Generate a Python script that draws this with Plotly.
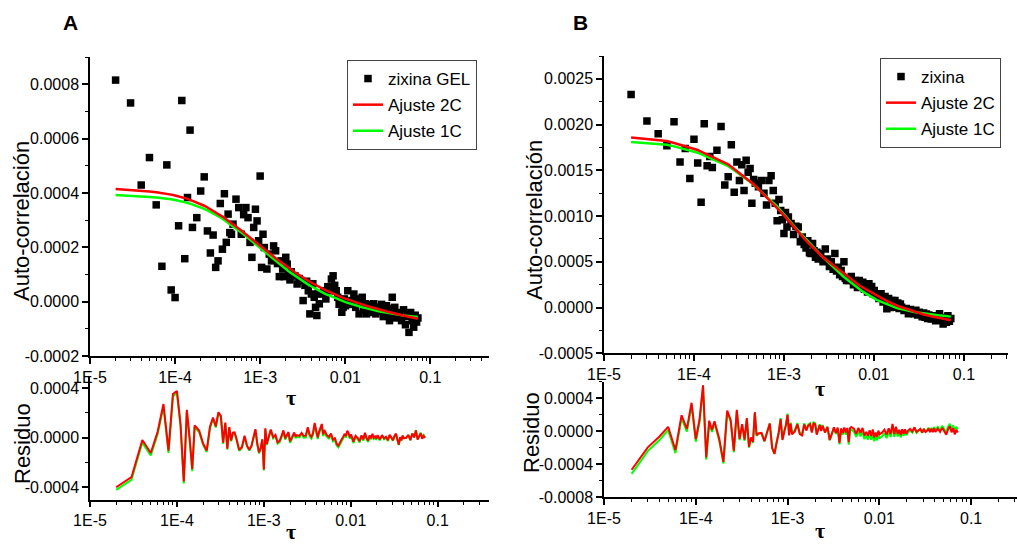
import numpy as np
import plotly.graph_objects as go

# Lag times, in units of 10 microseconds (multi-tau correlator channels)
TAU_10US = [2, 3, 4, 5, 6, 7, 8, 9, 10, 11, 12, 13, 14, 15, 16,
            18, 20, 22, 24, 26, 28, 30, 32, 34, 36, 38, 40, 42, 44, 46, 48,
            52, 56, 60, 64, 68, 72, 76, 80, 84, 88, 92, 96, 100, 104, 108, 112,
            120, 128, 136, 144, 152, 160, 168, 176, 184, 192, 200, 208, 216, 224, 232, 240,
            256, 272, 288, 304, 320, 336, 352, 368, 384, 400, 416, 432, 448, 464, 480, 496,
            528, 560, 592, 624, 656, 688, 720, 752, 784, 816, 848, 880, 912, 944, 976, 1008,
            1072, 1136, 1200, 1264, 1328, 1392, 1456, 1520, 1584, 1648, 1712, 1776, 1840, 1904, 1968, 2032,
            2160, 2288, 2416, 2544, 2672, 2800, 2928, 3056, 3184, 3312, 3440, 3568, 3696, 3824, 3952, 4080,
            4336, 4592, 4848, 5104, 5360, 5616, 5872, 6128, 6384, 6640, 6896, 7152]

# Panel A: zixina GEL autocorrelation and fits (units of 1e-4)
G_A = [8.15, 7.31, 4.29, 5.30, 3.56, 1.30, 5.03, 0.43, 0.15, 2.79, 7.40, 1.58, 3.83, 6.31, 2.73,
       3.09, 4.07, 4.59, 2.60, 1.79, 2.45, 1.26, 1.50, 3.61, 1.93, 3.97, 2.18, 3.22, 2.54, 2.48, 2.85,
       3.77, 3.46, 2.48, 3.20, 3.46, 3.09, 2.18, 1.63, 2.73, 3.40, 2.97, 2.24, 4.62, 1.26, 2.48, 1.99,
       1.20, 1.75, 1.50, 2.05, 1.87, 1.40, 0.92, 1.50, 1.20, 0.92, 1.63, 1.38, 1.02, 0.80, 1.10, 0.95,
       0.95, 0.65, 0.85, 0.77, 0.04, 0.60, 0.75, 0.40, -0.45, 0.28, 0.66, 0.16, -0.21, -0.51, 0.30, -0.08,
       0.28, 0.40, 0.10, 0.55, 0.40, 0.83, 0.95, 0.60, 0.40, 0.16, -0.10, 0.05, -0.39, -0.21, 0.10, -0.15,
       0.40, -0.10, 0.04, 0.28, -0.21, 0.10, -0.45, -0.05, 0.16, -0.30, -0.08, -0.45, -0.15, -0.27, -0.10, -0.40,
       -0.08, -0.45, -0.20, -0.35, -0.10, -0.55, -0.30, -0.15, -0.50, -0.70, -0.25, 0.16, -0.45, -0.21, -0.60, -0.40,
       -0.45, -0.70, -0.30, -0.85, -0.55, -1.13, -0.40, -0.70, -0.94, -0.50, -0.75, -0.60]
FIT2_A = [4.140, 4.109, 4.087, 4.051, 4.021, 3.996, 3.973, 3.937, 3.905, 3.876, 3.850, 3.819, 3.781, 3.746, 3.713,
          3.653, 3.598, 3.528, 3.462, 3.402, 3.346, 3.295, 3.244, 3.186, 3.130, 3.077, 3.028, 2.982, 2.937, 2.893, 2.852,
          2.770, 2.689, 2.613, 2.542, 2.474, 2.414, 2.353, 2.297, 2.244, 2.193, 2.142, 2.096, 2.050, 2.007, 1.966, 1.925,
          1.849, 1.778, 1.713, 1.656, 1.598, 1.545, 1.495, 1.445, 1.399, 1.356, 1.313, 1.276, 1.242, 1.208, 1.175, 1.143,
          1.083, 1.025, 0.973, 0.922, 0.876, 0.838, 0.799, 0.765, 0.732, 0.699, 0.668, 0.639, 0.609, 0.580, 0.555, 0.529,
          0.486, 0.449, 0.414, 0.380, 0.347, 0.316, 0.288, 0.260, 0.234, 0.211, 0.192, 0.173, 0.155, 0.137, 0.120, 0.104,
          0.072, 0.043, 0.015, -0.012, -0.032, -0.053, -0.071, -0.090, -0.107, -0.124, -0.140, -0.155, -0.170, -0.185, -0.199, -0.212,
          -0.234, -0.255, -0.275, -0.295, -0.313, -0.330, -0.347, -0.362, -0.377, -0.390, -0.403, -0.414, -0.426, -0.437, -0.448, -0.458,
          -0.478, -0.497, -0.515, -0.530, -0.545, -0.558, -0.571, -0.584, -0.596, -0.607, -0.619, -0.629]
FIT1_A = [3.920, 3.897, 3.880, 3.852, 3.829, 3.810, 3.792, 3.763, 3.737, 3.713, 3.691, 3.665, 3.633, 3.603, 3.575,
          3.524, 3.477, 3.414, 3.355, 3.301, 3.251, 3.205, 3.158, 3.103, 3.050, 2.999, 2.952, 2.908, 2.865, 2.823, 2.784,
          2.703, 2.621, 2.545, 2.474, 2.405, 2.344, 2.282, 2.226, 2.170, 2.116, 2.063, 2.015, 1.967, 1.922, 1.878, 1.835,
          1.755, 1.681, 1.613, 1.552, 1.492, 1.436, 1.383, 1.330, 1.282, 1.237, 1.192, 1.154, 1.118, 1.083, 1.049, 1.016,
          0.954, 0.894, 0.840, 0.787, 0.740, 0.701, 0.662, 0.627, 0.594, 0.560, 0.529, 0.499, 0.470, 0.440, 0.414, 0.388,
          0.346, 0.311, 0.276, 0.244, 0.212, 0.182, 0.155, 0.128, 0.103, 0.081, 0.064, 0.047, 0.029, 0.013, -0.002, -0.017,
          -0.046, -0.073, -0.098, -0.123, -0.141, -0.158, -0.175, -0.191, -0.206, -0.220, -0.235, -0.248, -0.261, -0.274, -0.286, -0.296,
          -0.313, -0.329, -0.345, -0.360, -0.374, -0.387, -0.400, -0.411, -0.422, -0.430, -0.439, -0.446, -0.453, -0.460, -0.467, -0.474,
          -0.486, -0.498, -0.509, -0.519, -0.526, -0.533, -0.540, -0.546, -0.552, -0.558, -0.564, -0.569]

# Panel B: zixina autocorrelation and fits (units of 1e-4)
G_B = [23.3, 20.4, 19.0, 17.7, 20.3, 15.9, 17.4, 14.1, 18.4, 15.8, 11.5, 20.1, 15.5, 16.5, 15.3,
       17.2, 19.8, 13.4, 14.3, 17.8, 12.6, 15.9, 13.9, 15.6, 12.8, 16.1, 14.8, 15.2, 11.4, 14.0, 13.6,
       13.2, 13.9, 12.5, 11.2, 13.9, 14.4, 12.8, 11.4, 9.5, 11.8, 10.6, 9.6, 8.1, 10.4, 8.8, 9.9,
       9.2, 8.0, 8.9, 8.8, 7.2, 7.7, 6.9, 6.5, 7.3, 6.0, 5.9, 7.0, 6.2, 5.5, 6.06, 5.3,
       5.9, 5.0, 6.4, 5.3, 4.5, 5.0, 4.2, 5.9, 4.0, 4.4, 3.6, 4.06, 3.4, 5.0, 3.2, 2.96,
       2.96, 3.4, 2.5, 2.96, 2.2, 2.96, 2.4, 2.77, 2.0, 2.6, 1.7, 2.6, 1.9, 2.3, 1.5, 1.86,
       1.5, 1.0, 1.5, 0.6, 1.2, -0.14, 1.0, 0.0, 0.77, 0.2, 0.77, 0.03, 0.5, -0.1, 0.4, 0.03,
       -0.33, -0.1, -0.69, -0.2, -0.51, -0.69, -0.3, -0.8, -0.5, -0.69, -1.0, -0.6, -1.06, -0.7, -1.2, -0.8,
       -1.24, -0.9, -1.43, -1.0, -0.69, -1.4, -1.79, -1.1, -1.61, -0.9, -1.5, -1.2]
FIT2_B = [18.60, 18.42, 18.30, 18.20, 17.99, 17.81, 17.66, 17.52, 17.40, 17.22, 17.05, 16.89, 16.75, 16.62, 16.49,
          16.27, 16.06, 15.88, 15.65, 15.40, 15.16, 14.94, 14.74, 14.55, 14.37, 14.19, 14.03, 13.87, 13.68, 13.48, 13.31,
          12.97, 12.66, 12.37, 12.10, 11.84, 11.61, 11.38, 11.16, 10.95, 10.72, 10.49, 10.28, 10.07, 9.87, 9.69, 9.50,
          9.15, 8.82, 8.51, 8.25, 8.00, 7.76, 7.54, 7.31, 7.11, 6.92, 6.73, 6.55, 6.38, 6.21, 6.06, 5.94,
          5.72, 5.50, 5.31, 5.12, 4.94, 4.77, 4.60, 4.45, 4.31, 4.16, 4.03, 3.90, 3.77, 3.65, 3.55, 3.45,
          3.24, 3.06, 2.89, 2.72, 2.57, 2.41, 2.30, 2.19, 2.09, 1.98, 1.89, 1.80, 1.71, 1.62, 1.54, 1.46,
          1.30, 1.17, 1.05, 0.93, 0.82, 0.71, 0.62, 0.52, 0.43, 0.34, 0.28, 0.23, 0.17, 0.12, 0.07, 0.02,
          -0.07, -0.16, -0.24, -0.32, -0.38, -0.44, -0.50, -0.55, -0.61, -0.66, -0.71, -0.75, -0.80, -0.84, -0.87, -0.90,
          -0.95, -1.00, -1.05, -1.10, -1.14, -1.18, -1.22, -1.25, -1.29, -1.32, -1.36, -1.39]
FIT1_B = [18.10, 17.97, 17.87, 17.80, 17.62, 17.46, 17.33, 17.21, 17.10, 16.93, 16.77, 16.62, 16.49, 16.37, 16.25,
          16.04, 15.85, 15.68, 15.46, 15.22, 15.00, 14.79, 14.60, 14.42, 14.24, 14.08, 13.92, 13.77, 13.59, 13.41, 13.25,
          12.94, 12.65, 12.38, 12.13, 11.88, 11.67, 11.45, 11.25, 11.05, 10.83, 10.60, 10.40, 10.19, 10.00, 9.82, 9.63,
          9.29, 8.97, 8.67, 8.40, 8.14, 7.90, 7.67, 7.44, 7.24, 7.04, 6.85, 6.66, 6.48, 6.31, 6.15, 6.01,
          5.75, 5.50, 5.28, 5.05, 4.85, 4.65, 4.46, 4.28, 4.11, 3.94, 3.78, 3.63, 3.48, 3.34, 3.23, 3.12,
          2.89, 2.69, 2.50, 2.31, 2.14, 1.97, 1.85, 1.74, 1.64, 1.53, 1.44, 1.35, 1.26, 1.17, 1.09, 1.01,
          0.85, 0.74, 0.64, 0.54, 0.45, 0.36, 0.28, 0.19, 0.11, 0.05, 0.00, -0.03, -0.07, -0.11, -0.14, -0.18,
          -0.24, -0.30, -0.36, -0.41, -0.44, -0.48, -0.51, -0.54, -0.56, -0.59, -0.62, -0.64, -0.67, -0.70, -0.71, -0.73,
          -0.76, -0.78, -0.81, -0.83, -0.86, -0.88, -0.90, -0.92, -0.94, -0.96, -0.98, -0.99]

X_TICKS = [1e-5, 1e-4, 1e-3, 1e-2, 1e-1]
X_TICK_TEXT = ["1E-5", "1E-4", "1E-3", "0.01", "0.1"]

YA_TICKS = [-0.0002, 0.0, 0.0002, 0.0004, 0.0006, 0.0008]
YA_TEXT = ["-0.0002", "0.0000", "0.0002", "0.0004", "0.0006", "0.0008"]
YB_TICKS = [-0.0005, 0.0, 0.0005, 0.0010, 0.0015, 0.0020, 0.0025]
YB_TEXT = ["-0.0005", "0.0000", "0.0005", "0.0010", "0.0015", "0.0020", "0.0025"]
RA_TICKS = [-0.0004, 0.0, 0.0004]
RA_TEXT = ["-0.0004", "0.0000", "0.0004"]
RB_TICKS = [-0.0008, -0.0004, 0.0, 0.0004]
RB_TEXT = ["-0.0008", "-0.0004", "0.0000", "0.0004"]

UNIT = 1e-4
tau = np.array(TAU_10US) * 1e-5
gA, f2A, f1A = (np.array(v) * UNIT for v in (G_A, FIT2_A, FIT1_A))
gB, f2B, f1B = (np.array(v) * UNIT for v in (G_B, FIT2_B, FIT1_B))
# residual = fitted model minus measured correlation
r2A, r1A = f2A - gA, f1A - gA
r2B, r1B = f2B - gB, f1B - gB

SANS = "Liberation Sans, Arial, sans-serif"
SERIF = "Liberation Serif, Times New Roman, serif"
RED = "#ff0000"
GREEN = "#00ff00"

fig = go.Figure()

# ---- panel A ----
fig.add_trace(go.Scatter(x=tau, y=gA, mode="markers", name="zixina GEL",
                         marker=dict(symbol="square", size=7.5, color="black"),
                         xaxis="x", yaxis="y", legend="legend",
                         legendgroup="a1", legendrank=1))
fig.add_trace(go.Scatter(x=tau, y=f1A, mode="lines", name="Ajuste 1C",
                         line=dict(color=GREEN, width=2.5),
                         xaxis="x", yaxis="y", legend="legend",
                         legendgroup="a3", legendrank=3))
fig.add_trace(go.Scatter(x=tau, y=f2A, mode="lines", name="Ajuste 2C",
                         line=dict(color=RED, width=2.5),
                         xaxis="x", yaxis="y", legend="legend",
                         legendgroup="a2", legendrank=2))
fig.add_trace(go.Scatter(x=tau, y=r1A, mode="lines", showlegend=False,
                         line=dict(color=GREEN, width=2), xaxis="x2", yaxis="y2"))
fig.add_trace(go.Scatter(x=tau, y=r2A, mode="lines", showlegend=False,
                         line=dict(color=RED, width=2), xaxis="x2", yaxis="y2"))

# ---- panel B ----
fig.add_trace(go.Scatter(x=tau, y=gB, mode="markers", name="zixina",
                         marker=dict(symbol="square", size=7.5, color="black"),
                         xaxis="x3", yaxis="y3", legend="legend2",
                         legendgroup="b1", legendrank=1))
fig.add_trace(go.Scatter(x=tau, y=f1B, mode="lines", name="Ajuste 1C",
                         line=dict(color=GREEN, width=2.5),
                         xaxis="x3", yaxis="y3", legend="legend2",
                         legendgroup="b3", legendrank=3))
fig.add_trace(go.Scatter(x=tau, y=f2B, mode="lines", name="Ajuste 2C",
                         line=dict(color=RED, width=2.5),
                         xaxis="x3", yaxis="y3", legend="legend2",
                         legendgroup="b2", legendrank=2))
fig.add_trace(go.Scatter(x=tau, y=r1B, mode="lines", showlegend=False,
                         line=dict(color=GREEN, width=2), xaxis="x4", yaxis="y4"))
fig.add_trace(go.Scatter(x=tau, y=r2B, mode="lines", showlegend=False,
                         line=dict(color=RED, width=2), xaxis="x4", yaxis="y4"))

W, H = 1017, 544
MINOR_X = [m * 10.0 ** e for e in range(-5, 0) for m in range(2, 10)]
TICK_FONT = dict(family=SANS, size=16, color="black")


def px(x):
    return x / W


def py(y):
    return 1 - y / H


def xaxis(x0, x1, rng, anchor):
    return dict(type="log", range=rng, domain=[px(x0), px(x1)], anchor=anchor,
                automargin=False,
                showline=True, linecolor="black", linewidth=1.5,
                ticks="outside", ticklen=6, tickwidth=1.5, tickcolor="black",
                tickmode="array", tickvals=X_TICKS, ticktext=X_TICK_TEXT,
                tickfont=TICK_FONT, showgrid=False, zeroline=False,
                minor=dict(tickmode="array", tickvals=MINOR_X, ticks="outside",
                           ticklen=3.5, tickwidth=1, tickcolor="black", showgrid=False))


def yaxis(top, bottom, rng, anchor, vals, text, minor_vals):
    return dict(range=rng, domain=[py(bottom), py(top)], anchor=anchor,
                automargin=False,
                showline=True, linecolor="black", linewidth=1.5,
                ticks="outside", ticklen=6, tickwidth=1.5, tickcolor="black",
                tickmode="array", tickvals=vals, ticktext=text,
                tickfont=TICK_FONT, showgrid=False, zeroline=False,
                minor=dict(tickmode="array", tickvals=minor_vals, ticks="outside",
                           ticklen=3.5, tickwidth=1, tickcolor="black", showgrid=False))


legend_style = dict(font=dict(family=SANS, size=17, color="black"),
                    bgcolor="white", bordercolor="#444", borderwidth=1,
                    xanchor="left", yanchor="top", tracegroupgap=1,
                    traceorder="grouped", entrywidth=86, entrywidthmode="pixels")

fig.update_layout(
    width=W, height=H, margin=dict(l=0, r=0, t=0, b=0, autoexpand=False),
    paper_bgcolor="white", plot_bgcolor="white",
    xaxis=xaxis(90, 489, [-5, -0.31], "y"),
    yaxis=yaxis(57, 356, [-0.0002, 0.0009], "x", YA_TICKS, YA_TEXT,
                [-0.0001, 0.0001, 0.0003, 0.0005, 0.0007, 0.0009]),
    xaxis2=xaxis(90, 489, [-5, -0.41], "y2"),
    yaxis2=yaxis(375.5, 499.5, [-0.0005, 0.0005], "x2", RA_TICKS, RA_TEXT,
                 [-0.0002, 0.0002]),
    xaxis3=xaxis(604, 1008, [-5, -0.51], "y3"),
    yaxis3=yaxis(56, 353.3, [-0.0005, 0.00275], "x3", YB_TICKS, YB_TEXT,
                 [-0.00025, 0.00025, 0.00075, 0.00125, 0.00175, 0.00225, 0.00275]),
    xaxis4=xaxis(604, 1017, [-5, -0.5], "y4"),
    yaxis4=yaxis(381.5, 497, [-0.0008, 0.0006], "x4", RB_TICKS, RB_TEXT,
                 [-0.0006, -0.0002, 0.0002, 0.0006]),
    legend=dict(x=px(347), y=py(60), **legend_style),
    legend2=dict(x=px(880), y=py(58), **legend_style),
    showlegend=True,
)

annotations = [
    dict(text="<b>A</b>", x=px(70), y=py(23), font=dict(family=SANS, size=21)),
    dict(text="<b>B</b>", x=px(580), y=py(23), font=dict(family=SANS, size=21)),
    dict(text="Auto-correlación", x=px(21), y=py(221), textangle=-90,
         font=dict(family=SANS, size=22)),
    dict(text="Auto-correlación", x=px(534), y=py(220), textangle=-90,
         font=dict(family=SANS, size=22)),
    dict(text="Residuo", x=px(22), y=py(444), textangle=-90,
         font=dict(family=SANS, size=22)),
    dict(text="Residuo", x=px(531), y=py(433), textangle=-90,
         font=dict(family=SANS, size=22)),
    dict(text="<b>τ</b>", x=px(291), y=py(397), font=dict(family=SERIF, size=22)),
    dict(text="<b>τ</b>", x=px(291), y=py(531), font=dict(family=SERIF, size=22)),
    dict(text="<b>τ</b>", x=px(820), y=py(388), font=dict(family=SERIF, size=22)),
    dict(text="<b>τ</b>", x=px(820), y=py(530), font=dict(family=SERIF, size=22)),
]
for a in annotations:
    a.update(xref="paper", yref="paper", showarrow=False, xanchor="center",
             yanchor="middle")
    a["font"]["color"] = "black"
fig.update_layout(annotations=annotations)

fig.write_html("out.html")
